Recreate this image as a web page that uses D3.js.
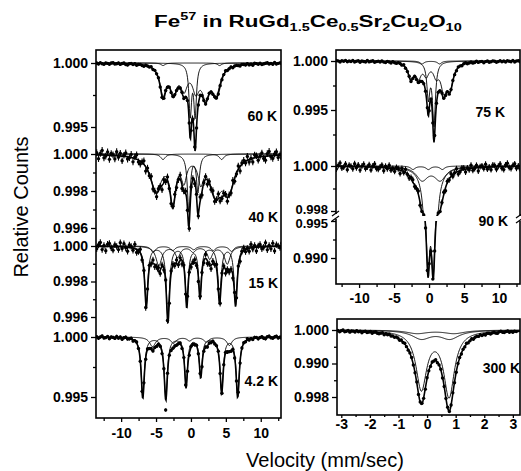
<!DOCTYPE html>
<html>
<head>
<meta charset="utf-8">
<script src="https://cdn.jsdelivr.net/npm/d3@7"></script>
<style>
body { margin: 0; background: #fff; }
svg { display: block; font-family: "Liberation Sans", Arial, sans-serif; }
</style>
</head>
<body>
<svg id="chart" width="521" height="471"></svg>
<script>
// velocity channels (mm/s)
const velWide = d3.range(105).map(i => -13.5 + i * 0.26);
const velNarrow = d3.range(105).map(i => -3.12 + i * 0.06);

// fitted absorption lines: [velocity, depth, fwhm, sub-spectrum]
const lines60 = [
  [-4.0, .0022, 1.1, 0], [-2.5, .0020, 1.2, 0], [-1.0, .0017, 1.2, 0], [0.7, .0018, 1.2, 0], [2.1, .0022, 1.3, 0], [3.6, .0022, 1.4, 0],
  [-0.1, .0040, 0.45, 1], [0.6, .0040, 0.45, 1],
  [-4.0, .0002, 0.7, 2], [4.1, .0002, 0.7, 2]
];
const lines40 = [
  [-5.0, .0019, 2.0, 0], [-2.6, .0024, 1.0, 0], [-1.0, .0012, 0.9, 0], [1.4, .0012, 0.9, 0], [3.5, .0019, 2.0, 0], [5.4, .0018, 2.0, 0],
  [-0.3, .0031, 0.5, 1], [1.0, .0020, 0.5, 1],
  [-4.0, .0003, 0.8, 2], [4.4, .0003, 0.8, 2]
];
const lines15 = [
  [-6.4, .0033, .55, 0], [-3.3, .0040, .55, 0], [-0.6, .0032, .5, 0], [1.3, .0027, .5, 0], [4.1, .0029, .55, 0], [6.4, .0031, .55, 0],
  [-4.6, .0011, 1.0, 1], [-1.9, .0006, .9, 1], [0.3, .0003, .9, 1], [2.7, .0007, .9, 1], [5.2, .0010, 1.0, 1],
  [-5.4, .00035, .8, 2], [-2.6, .00025, .8, 2], [0.4, .0002, .8, 2], [3.2, .00025, .8, 2], [5.8, .0003, .8, 2]
];
const lines42 = [
  [-6.9, .0050, .55, 0], [-3.6, .0051, .55, 0], [-0.7, .0040, .5, 0], [1.4, .0032, .5, 0], [4.4, .0045, .55, 0], [6.7, .0049, .55, 0],
  [-5.5, .0008, 1.0, 1], [-2.5, .0005, .9, 1], [-0.2, .0003, .8, 1], [2.2, .0004, .9, 1], [5.5, .0007, .9, 1]
];
const lines75 = [
  [-2.6, .0016, 1.0, 0], [-1.5, .0014, 0.9, 0], [-0.4, .0012, 0.9, 0], [1.0, .0012, 0.9, 0], [2.1, .0026, 1.0, 0], [3.0, .0024, 1.1, 0],
  [-0.1, .0036, 0.5, 1], [0.7, .0064, 0.5, 1],
  [-1.0, .0003, 0.7, 2], [1.5, .0003, 0.7, 2]
];
const lines90 = [
  [-1.0, .0006, 2.0, 0], [1.6, .0006, 2.0, 0],
  [-0.15, .0105, 0.6, 1], [0.6, .0110, 0.6, 1],
  [-2.3, .00015, 0.8, 2], [-0.1, .00015, 0.8, 2], [1.9, .00015, 0.8, 2]
];
const lines300 = [
  [-0.2, .0173, 0.45, 0], [0.77, .0195, 0.45, 0],
  [-0.2, .0025, 0.8, 1], [0.8, .0025, 0.8, 1],
  [-0.35, .0010, 0.9, 2], [0.95, .0010, 0.9, 2]
];

// scatter of the measured counts about the fit (units of 1e-5)
const noise60 = [
  3,-5,6,-2,-7,4,1,-6,5,8,-3,-1,6,-5,2,
  7,-4,-8,3,5,-2,6,-6,1,4,-3,-7,5,2,-1,
  8,-5,3,-2,6,-4,-6,2,7,-3,1,-5,4,9,-2,
  -7,3,6,-8,2,-4,5,1,-6,7,-2,-5,8,3,-3,
  -9,4,6,-1,-4,7,2,-6,5,-3,1,8,-5,-2,6,
  -7,3,4,-1,-6,5,2,-3,7,-4,1,-8,6,3,-2,
  5,-5,-1,4,7,-3,2,-6,8,-4,1,5,-2,-7,3];
const noise40 = [
  12,-20,8,25,-15,-5,18,-22,10,3,-18,22,-8,15,-25,
  6,20,-12,-3,17,-21,9,24,-10,-16,4,19,-23,11,-6,
  21,-14,2,-19,13,7,-24,16,-9,23,-4,-17,10,18,-13,
  -2,22,-20,8,14,-11,-25,19,5,-15,12,-7,24,-18,1,
  16,-23,9,-6,20,-13,3,25,-19,-8,14,11,-21,6,-10,
  23,-16,-4,18,-24,7,12,-9,21,-14,2,-20,15,9,-17,
  4,19,-11,-22,13,24,-6,-15,8,20,-12,3,-18,10,-5];
const noise15 = [
  -14,9,22,-18,5,-24,13,17,-7,-20,11,2,-16,23,-9,
  19,-3,-22,14,8,-12,25,-17,-5,21,-10,6,-25,12,16,
  -8,20,-15,3,24,-19,7,-11,18,-2,-23,13,9,-14,22,
  -6,15,-21,10,-13,25,-4,-18,11,19,-9,-24,16,1,-12,
  23,-16,6,-20,14,-7,21,-1,-15,12,8,-22,17,-10,4,
  -19,24,-5,13,-23,9,16,-12,2,-17,20,-8,11,-21,7,
  14,-11,-3,22,-18,6,-13,19,-25,10,3,-7,18,-16,5];
const noise42 = [
  5,-9,3,11,-6,-2,8,-10,4,1,-7,10,-4,7,-12,
  2,9,-5,-1,8,-10,4,11,-5,-7,2,9,-11,5,-3,
  10,-6,1,-9,6,3,-11,7,-80,11,-2,-8,5,8,-6,
  -1,10,-9,4,6,-5,-12,9,2,-7,6,-3,11,-8,0,
  7,-11,4,-3,9,-6,1,12,-9,-4,6,5,-10,3,-5,
  11,-7,-2,8,-11,3,6,-4,10,-6,1,-9,7,4,-8,
  2,9,-5,-10,6,11,-3,-7,4,9,-6,1,-8,5,-2];
const noise75 = [
  -4,7,2,-8,5,-1,9,-6,3,-3,8,-7,1,6,-9,
  4,-2,-6,10,-5,2,7,-8,-1,5,-4,9,-3,-7,6,
  1,-9,8,-2,-5,7,3,-6,10,-4,-1,6,-8,2,5,
  -7,4,9,-3,-6,1,8,-10,5,2,-5,7,-2,-8,9,
  3,-4,6,-9,2,8,-3,-6,7,1,-8,4,10,-5,-1,
  6,-7,-2,9,-4,3,5,-10,1,8,-6,-3,7,2,-9,
  -2,8,-5,4,-8,6,1,-4,9,-7,3,5,-6,-1,7];
const noise90 = [
  9,-12,4,15,-7,-3,11,-14,6,2,-10,13,-5,8,-15,
  3,12,-8,-1,10,-13,5,14,-6,-9,2,11,-14,7,-4,
  13,-8,1,-11,8,4,-15,10,-5,14,-2,-10,6,11,-8,
  -1,13,-12,5,9,-7,-14,12,3,-9,7,-4,15,-11,1,
  10,-14,6,-4,12,-8,2,15,-12,-5,9,7,-13,4,-6,
  14,-10,-3,11,-15,4,7,-6,13,-9,1,-12,9,6,-11,
  3,12,-7,-13,8,15,-4,-9,5,12,-8,2,-11,6,-3];
const noise300 = [
  12,-25,8,30,-18,-4,22,-28,10,5,-20,26,-9,16,-30,
  6,24,-14,-2,20,-26,11,28,-12,-18,4,22,-27,13,-7,
  25,-16,3,-22,15,8,-29,19,-10,27,-5,-20,12,21,-15,
  -3,26,-24,9,17,-13,-30,23,6,-18,14,-8,29,-21,2,
  19,-27,11,-7,24,-15,4,30,-23,-10,17,13,-25,7,-12,
  27,-19,-5,21,-29,8,14,-11,25,-17,3,-24,18,11,-20,
  5,23,-13,-26,16,29,-7,-18,10,24,-15,4,-22,12,-6];

// error bar half-heights: 60, 40, 15, 4.2, 75, 90, 300 K
const errBars = [0.0001, 0.00018, 0.00018, 0.00013, 0.0001, 0.00013, 0.00035];
const tempLabels = ['60 K', '40 K', '15 K', '4.2 K', '75 K', '90 K', '300 K'];

// ticks
const xTicksWide = [-10, -5, 0, 5, 10];
const xMinorWide = [-12.5, -7.5, -2.5, 2.5, 7.5, 12.5];
const xTicks300 = [-3, -2, -1, 0, 1, 2, 3];
const xMinor300 = [-2.5, -1.5, -0.5, 0.5, 1.5, 2.5];
const yTicks60 = [1.000, 0.995], yLabels60 = ['1.000', '0.995'], yMinor60 = [0.9975];
const yTicks40 = [1.000, 0.998, 0.996], yLabels40 = ['1.000', '0.998', '0.996'], yMinor40 = [0.999, 0.997];
const yTicks15 = [1.000, 0.998, 0.996], yLabels15 = ['1.000', '0.998', '0.996'], yMinor15 = [0.999, 0.997];
const yTicks42 = [1.000, 0.995], yLabels42 = ['1.000', '0.995'], yMinor42 = [0.9975];
const yTicks75 = [1.000, 0.995], yLabels75 = ['1.000', '0.995'], yMinor75 = [0.9975, 0.9925];
const yTicks90 = [1.000, 0.998, 0.995, 0.990], yLabels90 = ['1.000', '0.998', '0.995', '0.990'], yMinor90 = [0.999, 0.9925];
const yTicks300 = [1.00, 0.99, 0.98], yLabels300 = ['1.000', '0.990', '0.998'], yMinor300 = [0.995, 0.985];

const svg = d3.select('#chart');
const defs = svg.append('defs');

function clip(id, x, y, w, h) {
  defs.append('clipPath').attr('id', id)
    .append('rect').attr('x', x).attr('y', y).attr('width', w).attr('height', h);
}
clip('clipL', 96, 50, 185, 368);
clip('clipR', 336, 50, 184, 110);
clip('clip90u', 336, 145, 184, 71);
clip('clip90l', 336, 221, 184, 63);
clip('clip300', 337, 319, 183, 96);

// scales
const xL = d3.scaleLinear().domain([-13.6, 12.9]).range([96, 281]);
const xR = d3.scaleLinear().domain([-13.3, 13.0]).range([336, 520]);
const x300 = d3.scaleLinear().domain([-3.15, 3.25]).range([337, 520]);

const y60 = d3.scaleLinear().domain([0.995, 1.000]).range([127, 63]);
const y40 = d3.scaleLinear().domain([0.996, 1.000]).range([228, 154]);
const y15 = d3.scaleLinear().domain([0.996, 1.000]).range([317, 246]);
const y42 = d3.scaleLinear().domain([0.995, 1.000]).range([397, 337]);
const y75 = d3.scaleLinear().domain([0.995, 1.000]).range([110, 61]);
const y90 = d3.scaleLinear().domain([0.990, 0.995, 0.998, 1.000]).range([258, 221, 211, 166]);
const y300 = d3.scaleLinear().domain([0.98, 1.00]).range([397, 330]);

function absorb(v, lines, comp) {
  let s = 0;
  for (const [p, d, w, c] of lines) {
    if (comp == null || c === comp) s += d / (1 + ((v - p) / (w / 2)) ** 2);
  }
  return 1 - s;
}

function drawSpectrum(g, x, y, grid, lines, noise, err) {
  const pts = grid.map((v, i) => ({ v: v, c: absorb(v, lines) + (noise[i] || 0) * 1e-5 }));
  const fine = d3.range(x.range()[0], x.range()[1] + 0.5, 0.5).map(p => x.invert(p));

  g.append('g').selectAll('line').data(pts).join('line')
    .attr('x1', d => x(d.v)).attr('x2', d => x(d.v))
    .attr('y1', d => y(d.c - err)).attr('y2', d => y(d.c + err))
    .attr('stroke', '#000').attr('stroke-width', 1.1);
  g.append('g').selectAll('circle').data(pts).join('circle')
    .attr('cx', d => x(d.v)).attr('cy', d => y(d.c)).attr('r', 1.7)
    .attr('fill', '#000');

  g.append('path').datum(fine)
    .attr('d', d3.line().x(v => x(v)).y(v => y(absorb(v, lines))))
    .attr('fill', 'none').attr('stroke', '#000').attr('stroke-width', 1.6);

  const comps = Array.from(new Set(lines.map(l => l[3])));
  comps.forEach(c => {
    g.append('path').datum(fine)
      .attr('d', d3.line().x(v => x(v)).y(v => y(absorb(v, lines, c))))
      .attr('fill', 'none').attr('stroke', '#000').attr('stroke-width', 0.9);
  });
}

function styleAxis(g) {
  g.attr('font-size', 14).attr('font-family', null).attr('font-weight', 'bold');
  g.select('.domain').remove();
  g.selectAll('line').attr('stroke', '#000').attr('stroke-width', 1.3);
  g.selectAll('text').attr('fill', '#000');
}

function yAxis(xPos, y, ticks, labels, minor, nudge) {
  const g = svg.append('g').attr('transform', `translate(${xPos},0)`)
    .call(d3.axisLeft(y).tickValues(ticks).tickFormat((d, i) => labels[i]).tickSize(5).tickPadding(3))
    .call(styleAxis);
  if (nudge) g.selectAll('.tick text').attr('y', (d, i) => nudge[i]);
  svg.append('g').attr('transform', `translate(${xPos},0)`)
    .call(d3.axisLeft(y).tickValues(minor).tickFormat('').tickSize(3))
    .call(styleAxis);
}

function xAxis(yPos, x, ticks, minor, size, pad) {
  svg.append('g').attr('transform', `translate(0,${yPos})`)
    .call(d3.axisBottom(x).tickValues(ticks).tickFormat(d => String(d)).tickSize(size).tickPadding(pad))
    .call(styleAxis);
  svg.append('g').attr('transform', `translate(0,${yPos})`)
    .call(d3.axisBottom(x).tickValues(minor).tickFormat('').tickSize(size - 1))
    .call(styleAxis);
}

// left column: 60, 40, 15, 4.2 K
const gL = svg.append('g').attr('clip-path', 'url(#clipL)');
drawSpectrum(gL.append('g'), xL, y60, velWide, lines60, noise60, errBars[0]);
drawSpectrum(gL.append('g'), xL, y40, velWide, lines40, noise40, errBars[1]);
drawSpectrum(gL.append('g'), xL, y15, velWide, lines15, noise15, errBars[2]);
drawSpectrum(gL.append('g'), xL, y42, velWide, lines42, noise42, errBars[3]);

// right column: 75 K and 90 K (broken axis)
drawSpectrum(svg.append('g').attr('clip-path', 'url(#clipR)'), xR, y75, velWide, lines75, noise75, errBars[4]);
drawSpectrum(svg.append('g').attr('clip-path', 'url(#clip90u)'), xR, y90, velWide, lines90, noise90, errBars[5]);
drawSpectrum(svg.append('g').attr('clip-path', 'url(#clip90l)'), xR, y90, velWide, lines90, noise90, errBars[5]);

// 300 K
drawSpectrum(svg.append('g').attr('clip-path', 'url(#clip300)'), x300, y300, velNarrow, lines300, noise300, errBars[6]);

// frames
[[96, 50, 185, 368], [336, 50, 184, 234], [337, 319, 183, 96]].forEach(b => {
  svg.append('rect').attr('x', b[0]).attr('y', b[1]).attr('width', b[2]).attr('height', b[3])
    .attr('fill', 'none').attr('stroke', '#000').attr('stroke-width', 1.6);
});

// axes
yAxis(96, y60, yTicks60, yLabels60, yMinor60);
yAxis(96, y40, yTicks40, yLabels40, yMinor40);
yAxis(96, y15, yTicks15, yLabels15, yMinor15);
yAxis(96, y42, yTicks42, yLabels42, yMinor42);
yAxis(336, y75, yTicks75, yLabels75, yMinor75);
yAxis(336, y90, yTicks90, yLabels90, yMinor90, [0, -1.5, 2, 0]);
yAxis(337, y300, yTicks300, yLabels300, yMinor300);
xAxis(418, xL, xTicksWide, xMinorWide, 4, 6);
xAxis(284, xR, xTicksWide, xMinorWide, 4, 5);
xAxis(415, x300, xTicks300, xMinor300, 3, 1);

// shrink the two crowded labels beside the axis break
svg.selectAll('.tick text').filter(function () {
  const t = this.textContent;
  return this.getCTM().f > 200 && this.getCTM().f < 230 && this.getCTM().e > 300 && (t === '0.998' || t === '0.995');
}).attr('font-size', 13);

// axis break marks on the 90 K panel
[[336, 216], [520, 218]].forEach(([bx, by]) => {
  svg.append('rect').attr('x', bx - 3).attr('y', by - 2).attr('width', 6).attr('height', 5).attr('fill', '#fff');
  svg.append('line').attr('x1', bx - 4).attr('y1', by + 0).attr('x2', bx + 3).attr('y2', by - 5)
    .attr('stroke', '#000').attr('stroke-width', 1.2);
  svg.append('line').attr('x1', bx - 4).attr('y1', by + 5).attr('x2', bx + 3).attr('y2', by)
    .attr('stroke', '#000').attr('stroke-width', 1.2);
});

// temperature labels
const labelPos = [[277, 121], [278, 222], [278, 288], [278, 386], [505, 117], [508, 226], [520, 373]];
tempLabels.forEach((t, i) => {
  svg.append('text').attr('x', labelPos[i][0]).attr('y', labelPos[i][1])
    .attr('text-anchor', 'end').attr('font-size', 14).attr('font-weight', 'bold').text(t);
});

// title
const title = svg.append('text').attr('y', 27).attr('font-size', 17).attr('font-weight', 'bold');
const parts = [['Fe', 0, 17], ['57', -7, 11], [' in RuGd', 7, 17], ['1.5', 4, 11], ['Ce', -4, 17], ['0.5', 4, 11],
  ['Sr', -4, 17], ['2', 4, 11], ['Cu', -4, 17], ['2', 4, 11], ['O', -4, 17], ['10', 4, 11]];
parts.forEach(([t, dy, fs]) => {
  title.append('tspan').attr('dy', dy).attr('font-size', fs).text(t);
});
const tw = title.node().getComputedTextLength();
title.attr('transform', `translate(154,0) scale(${308 / tw},1)`);

// axis titles
svg.append('text').attr('transform', 'translate(28,207) rotate(-90)')
  .attr('text-anchor', 'middle').attr('font-size', 20).text('Relative Counts');
svg.append('text').attr('x', 325).attr('y', 467)
  .attr('text-anchor', 'middle').attr('font-size', 20).text('Velocity (mm/sec)');
</script>
</body>
</html>
